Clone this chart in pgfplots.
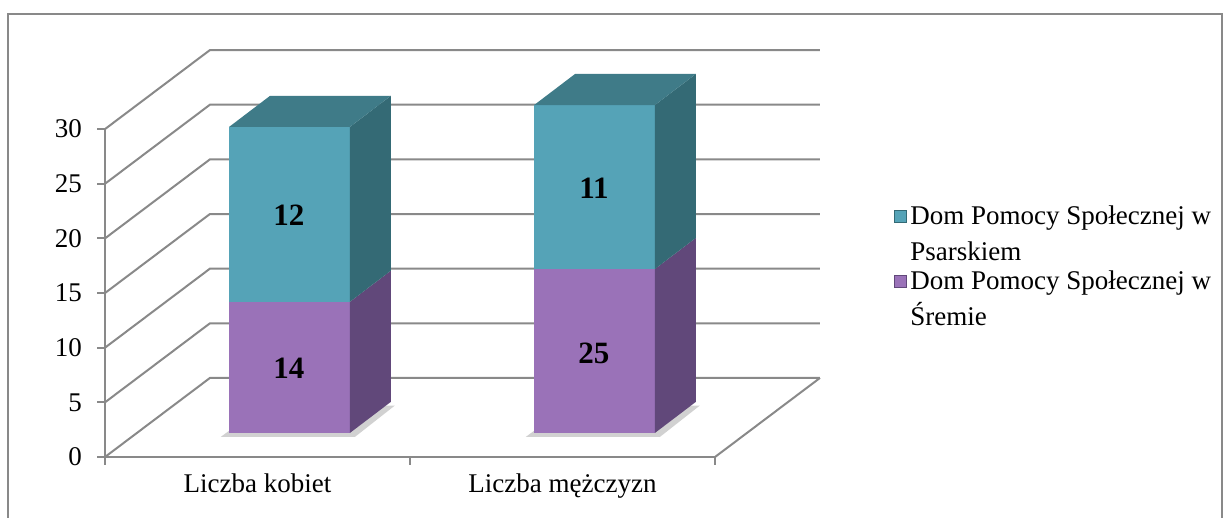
\documentclass[border=0pt]{standalone}
\usepackage{pgfplots}
\pgfplotsset{compat=1.18}
\usepackage{fontspec}
\setmainfont{Liberation Serif}

\definecolor{gridgray}{HTML}{898989}
\definecolor{cyanF}{HTML}{55A3B7}
\definecolor{cyanT}{HTML}{3F7B88}
\definecolor{cyanS}{HTML}{346A75}
\definecolor{purpF}{HTML}{9A72B8}
\definecolor{purpS}{HTML}{61487A}

\begin{document}
\begin{tikzpicture}
\begin{axis}[
    x=152.5pt, y=5.465pt,
    xmin=0, xmax=2, ymin=0, ymax=30,
    axis x line*=bottom,
    axis y line*=left,
    axis line style={gridgray, line width=1pt},
    tick style={gridgray, line width=1pt},
    tick align=outside,
    major tick length=4pt,
    clip=false,
    xtick={0,1,2},
    xticklabels={},
    extra x ticks={0.5,1.5},
    extra x tick labels={Liczba kobiet, Liczba mężczyzn},
    extra x tick style={major tick length=0pt, xticklabel style={yshift=-5pt}},
    ytick={0,5,...,30},
    /pgf/number format/assume math mode=true,
    ticklabel style={font=\fontsize{13.5}{16}\selectfont},
    yticklabel style={xshift=-4pt},
    legend style={draw=none, fill=none, at={(1.292,0.779)}, anchor=north west,
                  font=\fontsize{13.5}{17}\selectfont, nodes={align=left},
                  row sep=-0.5pt, inner sep=0pt},
    legend cell align=left,
    legend image code/.code={\draw[#1] (0pt,6pt) rectangle (6pt,12pt);},
]
% outer frame (bottom edge lies below the picture)
\draw[gridgray, line width=1pt] (axis cs:-0.318,-6) -- (axis cs:-0.318,40.53)
      -- (axis cs:3.662,40.53) -- (axis cs:3.662,-6);
\coordinate (bbA) at (axis cs:-0.3443,-5.581);
\coordinate (bbB) at (axis cs:3.672,41.81);

% walls and floor
\draw[gridgray, line width=1pt] (axis cs:0,0)  -- (axis cs:0.344,7.23)  -- (axis cs:2.344,7.23);
\draw[gridgray, line width=1pt] (axis cs:0,5)  -- (axis cs:0.344,12.23) -- (axis cs:2.344,12.23);
\draw[gridgray, line width=1pt] (axis cs:0,10) -- (axis cs:0.344,17.23) -- (axis cs:2.344,17.23);
\draw[gridgray, line width=1pt] (axis cs:0,15) -- (axis cs:0.344,22.23) -- (axis cs:2.344,22.23);
\draw[gridgray, line width=1pt] (axis cs:0,20) -- (axis cs:0.344,27.23) -- (axis cs:2.344,27.23);
\draw[gridgray, line width=1pt] (axis cs:0,25) -- (axis cs:0.344,32.23) -- (axis cs:2.344,32.23);
\draw[gridgray, line width=1pt] (axis cs:0,30) -- (axis cs:0.344,37.23) -- (axis cs:2.344,37.23);
\draw[gridgray, line width=1pt] (axis cs:2,0) -- (axis cs:2.344,7.23);

% shadows
\fill[black, opacity=0.18] (axis cs:0.38,1.85) -- (axis cs:0.82,1.85) -- (axis cs:0.95,4.7) -- (axis cs:0.52,4.7) -- cycle;
\fill[black, opacity=0.18] (axis cs:1.38,1.85) -- (axis cs:1.82,1.85) -- (axis cs:1.95,4.7) -- (axis cs:1.52,4.7) -- cycle;

% Liczba kobiet: segments 12 (Śrem) + 16 (Psarskie), base plane at 2.2
\addplot[forget plot, fill=purpF, draw=none] coordinates {(0.407,2.2) (0.803,2.2) (0.803,14.2) (0.407,14.2)};
\addplot[forget plot, fill=purpS, draw=none] coordinates {(0.803,2.2) (0.937,5.04) (0.937,17.04) (0.803,14.2)};
\addplot[forget plot, fill=cyanF, draw=none] coordinates {(0.407,14.2) (0.803,14.2) (0.803,30.2) (0.407,30.2)};
\addplot[forget plot, fill=cyanS, draw=none] coordinates {(0.803,14.2) (0.937,17.04) (0.937,33.04) (0.803,30.2)};
\addplot[forget plot, fill=cyanT, draw=none] coordinates {(0.407,30.2) (0.803,30.2) (0.937,33.04) (0.541,33.04)};

% Liczba mężczyzn: segments 15 + 15
\addplot[forget plot, fill=purpF, draw=none] coordinates {(1.407,2.2) (1.803,2.2) (1.803,17.2) (1.407,17.2)};
\addplot[forget plot, fill=purpS, draw=none] coordinates {(1.803,2.2) (1.937,5.04) (1.937,20.04) (1.803,17.2)};
\addplot[forget plot, fill=cyanF, draw=none] coordinates {(1.407,17.2) (1.803,17.2) (1.803,32.2) (1.407,32.2)};
\addplot[forget plot, fill=cyanS, draw=none] coordinates {(1.803,17.2) (1.937,20.04) (1.937,35.04) (1.803,32.2)};
\addplot[forget plot, fill=cyanT, draw=none] coordinates {(1.407,32.2) (1.803,32.2) (1.937,35.04) (1.541,35.04)};

% data labels
\node[font=\fontsize{15.5}{18}\selectfont\bfseries] at (axis cs:0.603,8.14) {14};
\node[font=\fontsize{15.5}{18}\selectfont\bfseries] at (axis cs:0.603,22.14) {12};
\node[font=\fontsize{15.5}{18}\selectfont\bfseries] at (axis cs:1.603,9.5) {25};
\node[font=\fontsize{15.5}{18}\selectfont\bfseries] at (axis cs:1.603,24.6) {11};

\addlegendimage{fill=cyanF, draw=cyanS}
\addlegendentry{Dom Pomocy Społecznej w\\[1pt]Psarskiem}
\addlegendimage{fill=purpF, draw=purpS}
\addlegendentry{Dom Pomocy Społecznej w\\[1pt]Śremie}
\end{axis}
\pgfresetboundingbox
\path[use as bounding box] (bbA) rectangle (bbB);
\end{tikzpicture}
\end{document}
